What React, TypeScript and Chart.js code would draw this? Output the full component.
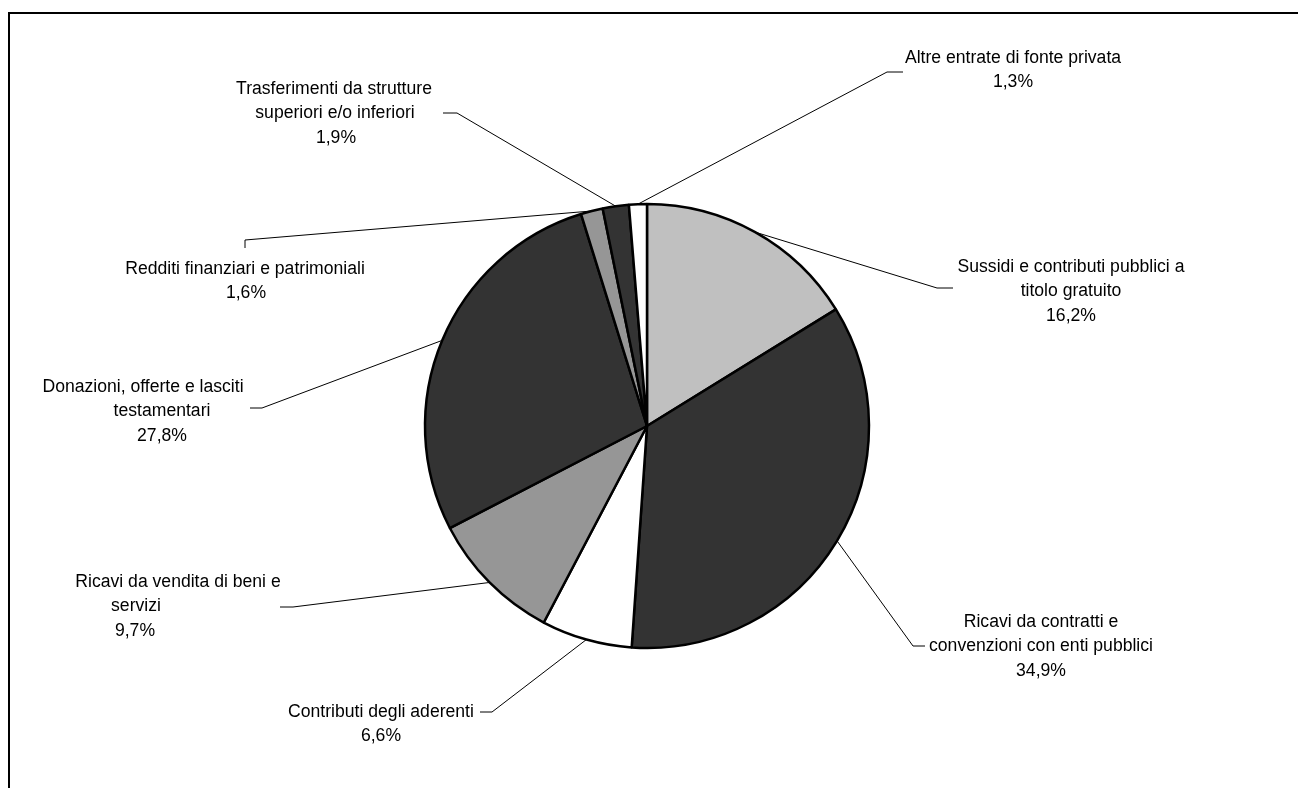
import React, { useEffect, useRef } from "react";
import { Chart, registerables } from "chart.js";

Chart.register(...registerables);

// ---- data ----
const categories = [
  "Sussidi e contributi pubblici a titolo gratuito",
  "Ricavi da contratti e convenzioni con enti pubblici",
  "Contributi degli aderenti",
  "Ricavi da vendita di beni e servizi",
  "Donazioni, offerte e lasciti testamentari",
  "Redditi finanziari e patrimoniali",
  "Trasferimenti da strutture superiori e/o inferiori",
  "Altre entrate di fonte privata",
];
// wrapped label text lines, as shown
const categoryLines = [
  ["Sussidi e contributi pubblici a", "titolo gratuito"],
  ["Ricavi da contratti e", "convenzioni con enti pubblici"],
  ["Contributi degli aderenti"],
  ["Ricavi da vendita di beni e", "servizi"],
  ["Donazioni, offerte e lasciti", "testamentari"],
  ["Redditi finanziari e patrimoniali"],
  ["Trasferimenti da strutture", "superiori e/o inferiori"],
  ["Altre entrate di fonte privata"],
];
const values = [16.2, 34.9, 6.6, 9.7, 27.8, 1.6, 1.9, 1.3];
const sliceColors = ["#c0c0c0", "#333333", "#ffffff", "#969696", "#333333", "#969696", "#333333", "#ffffff"];

// ---- label layout (positions only) ----
type Layout = { x: number[]; y: number; elbow: [number, number]; end: [number, number] };
const labelLayout: Layout[] = [
  { x: [1071, 1071, 1071], y: 267, elbow: [937, 288], end: [953, 288] },
  { x: [1041, 1041, 1041], y: 622, elbow: [913, 646], end: [925, 646] },
  { x: [381, 381], y: 712, elbow: [492, 712], end: [480, 712] },
  { x: [178, 136, 135], y: 582, elbow: [293, 607], end: [280, 607] },
  { x: [143, 162, 162], y: 387, elbow: [262, 408], end: [250, 408] },
  { x: [245, 246], y: 269, elbow: [245, 240], end: [245, 248] },
  { x: [334, 335, 336], y: 89, elbow: [457, 113], end: [443, 113] },
  { x: [1013, 1013], y: 58, elbow: [887, 72], end: [903, 72] },
];

const fmt = (v: number) => v.toFixed(1).replace(".", ",") + "%";

const labelPlugin = {
  id: "excelLabels",
  afterDatasetsDraw(chart: any) {
    const ctx = chart.ctx as CanvasRenderingContext2D;
    const meta = chart.getDatasetMeta(0);
    ctx.save();
    // frame
    ctx.strokeStyle = "#000";
    ctx.lineWidth = 2;
    ctx.beginPath();
    ctx.moveTo(9, 800);
    ctx.lineTo(9, 13);
    ctx.lineTo(1310, 13);
    ctx.stroke();

    ctx.lineWidth = 1;
    meta.data.forEach((arc: any, i: number) => {
      const p = arc.getProps(["x", "y", "startAngle", "endAngle", "outerRadius"], true);
      const mid = (p.startAngle + p.endAngle) / 2;
      const sx = p.x + Math.cos(mid) * p.outerRadius;
      const sy = p.y + Math.sin(mid) * p.outerRadius;
      const L = labelLayout[i];
      ctx.beginPath();
      ctx.moveTo(sx, sy);
      ctx.lineTo(L.elbow[0], L.elbow[1]);
      ctx.lineTo(L.end[0], L.end[1]);
      ctx.stroke();

      const lines = [...categoryLines[i], fmt(values[i])];
      ctx.fillStyle = "#000";
      ctx.font = "17.6px 'Liberation Sans', Arial, sans-serif";
      ctx.textAlign = "center";
      ctx.textBaseline = "middle";
      lines.forEach((t, k) => {
        ctx.fillText(t, L.x[k] ?? L.x[0], L.y + k * 24.5);
      });
    });
    ctx.restore();
  },
};

export default function App() {
  const ref = useRef<HTMLCanvasElement | null>(null);
  useEffect(() => {
    if (!ref.current) return;
    const chart = new Chart(ref.current, {
      type: "pie",
      data: {
        labels: categories,
        datasets: [
          {
            data: values,
            backgroundColor: sliceColors,
            borderColor: "#000000",
            borderWidth: 2.5,
          },
        ],
      },
      options: {
        responsive: false,
        maintainAspectRatio: false,
        animation: false,
        radius: 222,
        layout: { padding: { left: 0, right: 4, top: 64, bottom: 0 } },
        plugins: {
          legend: { display: false },
          tooltip: { enabled: false },
        },
        events: [],
      } as any,
      plugins: [labelPlugin],
    });
    return () => chart.destroy();
  }, []);
  return (
    <div style={{ position: "fixed", left: 0, top: 0, width: 1298, height: 788, overflow: "hidden", background: "#fff" }}>
      <canvas ref={ref} width={1298} height={788} style={{ display: "block", width: 1298, height: 788 }} />
    </div>
  );
}
